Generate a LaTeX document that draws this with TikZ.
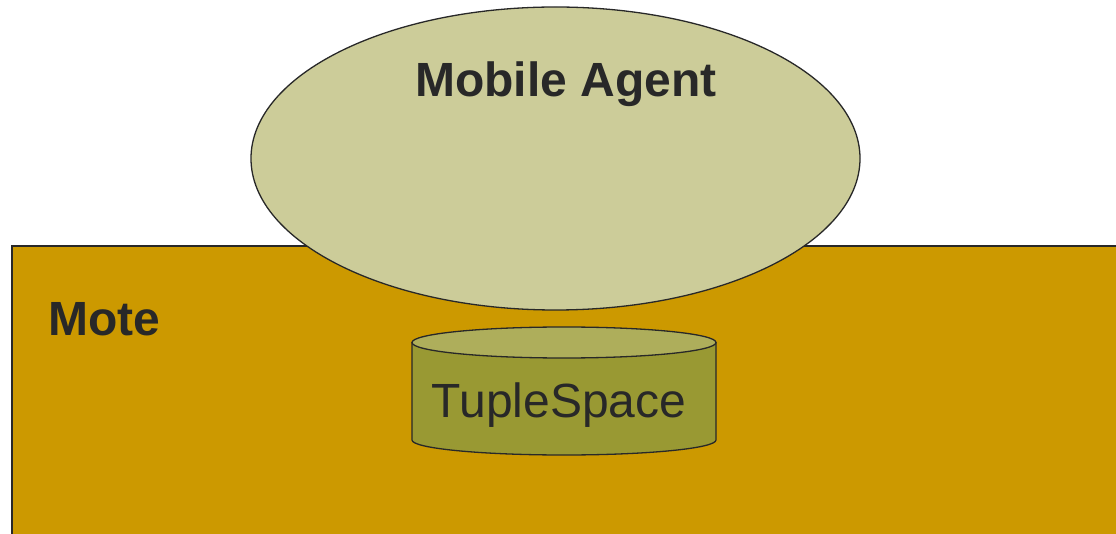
\documentclass[tikz,border=0pt]{standalone}
\usepackage{fontspec}
\setmainfont{Liberation Sans}
\definecolor{moteC}{RGB}{204,153,0}
\definecolor{agentC}{RGB}{204,204,153}
\definecolor{bodyC}{RGB}{153,153,51}
\definecolor{topC}{RGB}{174,174,91}
\definecolor{inkC}{RGB}{40,40,40}
\tikzset{
  outline/.style={draw=inkC, line width=1.5pt},
  bigtext/.style={text=inkC, font=\fontsize{48}{58}\selectfont, inner sep=0pt, anchor=base},
}
\begin{document}
\begin{tikzpicture}[x=1pt,y=1pt]
\useasboundingbox (0,0) rectangle (1116,533);
\clip (0,0) rectangle (1116,533);
\fill[white] (0,0) rectangle (1116,533);
% Mote
\draw[outline, line width=2pt, fill=moteC] (12,-20) -- (12,287) -- (1140,287) -- (1140,-20);
% Mobile Agent
\draw[outline, line width=1.3pt, fill=agentC] (555.5,374.5) ellipse[x radius=304.5, y radius=151.5];
% TupleSpace cylinder
\draw[outline, line width=1.3pt, fill=bodyC] (412,190.5) -- (412,93) arc[start angle=180, end angle=360, x radius=152, y radius=15] -- (716,190.5) -- cycle;
\draw[outline, line width=1.3pt, fill=topC] (564,190.5) ellipse[x radius=152, y radius=15.5];
% texts
\node[bigtext, font=\fontsize{48}{58}\selectfont\bfseries] (agent) at (566,436) {Mobile Agent};
\node[bigtext, font=\fontsize{48}{58}\selectfont\bfseries, anchor=base west] (mote) at (48,197) {Mote};
\node[bigtext] (ts) at (559,116) {TupleSpace};
\end{tikzpicture}
\end{document}
